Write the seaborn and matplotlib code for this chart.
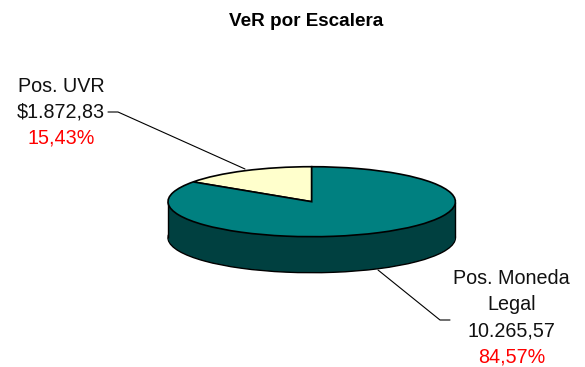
import numpy as np
import seaborn as sns
import matplotlib.pyplot as plt
from matplotlib.lines import Line2D

categories = ['Pos. UVR', 'Pos. Moneda Legal']
values = [1872.83, 10265.57]
value_labels = ['$1.872,83', '10.265,57']
pct_labels = ['15,43%', '84,57%']

W, H = 585, 367
# ellipse of the pie top, in pixels
CX, CY, RX, RY = 311.7, 201.7, 143.7, 35.0
DEPTH = 36.0 / RY

sns.set_theme(style='white')
plt.rcParams['font.family'] = ['Liberation Sans', 'DejaVu Sans']
top_colors = ['#FFFFCC', '#008080']
side_colors = ['#808066', '#004040']

fig = plt.figure(figsize=(W / 100, H / 100), dpi=100, facecolor='white')
ax = fig.add_axes([0, 0, 1, 1])

# side of the pie: dark copies stacked below the top face
for d in np.linspace(DEPTH, 0.03, 30):
    edge = 'black' if d == DEPTH else 'none'
    ax.pie(values, colors=side_colors, startangle=90, center=(0, -d), radius=1,
           wedgeprops={'edgecolor': edge, 'linewidth': 1.0})
ax.vlines([-1, 1], -DEPTH, 0, color='black', lw=1.0, zorder=3)
ax.pie(values, colors=top_colors, startangle=90, center=(0, 0), radius=1,
       wedgeprops={'edgecolor': 'black', 'linewidth': 1.2, 'zorder': 4})

# pie forces equal aspect, stretch it to the flat ellipse
ax.set_aspect('auto')
ax.set_xlim(-CX / RX, (W - CX) / RX)
ax.set_ylim((CY - H) / RY, CY / RY)
ax.axis('off')


def put(x, y, s, **kw):
    fig.text(x / W, 1 - y / H, s, ha='center', va='center', **kw)


def leader(xs, ys):
    fig.add_artist(Line2D([x / W for x in xs], [1 - y / H for y in ys],
                          color='black', lw=0.8))


put(306, 21, 'VeR por Escalera', fontsize=13.6, fontweight='bold', color='black')

put(61, 86, categories[0], fontsize=14.2, color='#111111')
put(61, 112, value_labels[0], fontsize=14.2, color='#111111')
put(61, 138, pct_labels[0], fontsize=14.2, color='#FF0000')
leader([108, 118, 245], [112, 112, 169])

put(511.7, 279, 'Pos. Moneda', fontsize=14.2, color='#111111')
put(511.7, 305, 'Legal', fontsize=14.2, color='#111111')
put(511.7, 331, value_labels[1], fontsize=14.2, color='#111111')
put(511.7, 357, pct_labels[1], fontsize=14.2, color='#FF0000')
leader([378, 440, 450], [270, 320, 320])

fig.savefig('out.png', dpi=100)
plt.close(fig)
